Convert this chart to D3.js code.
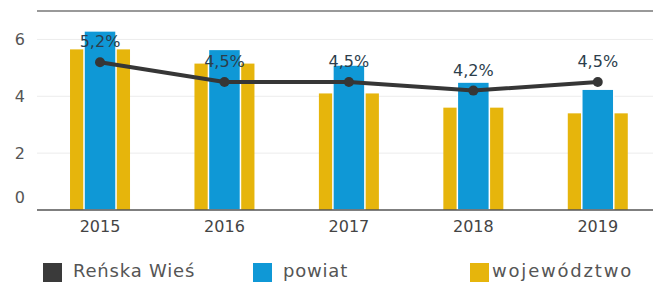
<!DOCTYPE html>
<html>
<head>
<meta charset="utf-8">
<script src="https://cdn.jsdelivr.net/npm/d3@7"></script>
<style>
  html, body { margin: 0; padding: 0; background: #fff; }
  svg { display: block; }
</style>
</head>
<body>
<svg id="chart" width="653" height="282"></svg>
<script>
const years = ["2015", "2016", "2017", "2018", "2019"];
const wojewodztwo = [5.65, 5.15, 4.1, 3.6, 3.4];
const powiat = [6.3, 5.65, 5.1, 4.5, 4.25];
const renskaWies = [5.2, 4.5, 4.5, 4.2, 4.5];
const lineLabels = ["5,2%", "4,5%", "4,5%", "4,2%", "4,5%"];
const yTicks = [0, 2, 4, 6];
const legendItems = [
  { name: "Reńska Wieś", color: "#3a3a3a" },
  { name: "powiat", color: "#0f98d6" },
  { name: "województwo", color: "#e6b50c" }
];

const svg = d3.select("#chart");
const font = "'DejaVu Sans', sans-serif";

const x = d3.scaleBand().domain(years).range([37.8, 660]).paddingInner(0).paddingOuter(0);
const y = d3.scaleLinear().domain([0, 7]).range([210, 11]);

// gridlines
svg.append("g").selectAll("line").data([2, 4, 6]).join("line")
  .attr("x1", 37).attr("x2", 653)
  .attr("y1", d => y(d)).attr("y2", d => y(d))
  .attr("stroke", "#ececec").attr("stroke-width", 1);

// top line
svg.append("line").attr("x1", 37).attr("x2", 653)
  .attr("y1", y(7)).attr("y2", y(7))
  .attr("stroke", "#777").attr("stroke-width", 1.6);

const cx = d => x(d) + x.bandwidth() / 2;

// yellow bars
svg.append("g").selectAll("rect").data(years).join("rect")
  .attr("x", d => cx(d) - 30).attr("width", 60)
  .attr("y", (d, i) => y(wojewodztwo[i]))
  .attr("height", (d, i) => y(0) - y(wojewodztwo[i]))
  .attr("fill", "#e6b50c");

// blue bars
svg.append("g").selectAll("rect").data(years).join("rect")
  .attr("x", d => cx(d) - 16).attr("width", 32)
  .attr("y", (d, i) => y(powiat[i]))
  .attr("height", (d, i) => y(0) - y(powiat[i]))
  .attr("fill", "#0f98d6")
  .attr("stroke", "#fff").attr("stroke-width", 1.5);

// baseline axis
const xAxis = svg.append("g").attr("transform", `translate(0,${y(0)})`)
  .call(d3.axisBottom(x).tickSize(0).tickPadding(11));
xAxis.select(".domain").attr("d", `M37,0H653`).attr("stroke", "#555").attr("stroke-width", 1.4);
xAxis.selectAll("text").attr("font-family", font).attr("font-size", 16).attr("fill", "#444");

// y axis labels
const yAxis = svg.append("g").attr("transform", "translate(25,0)")
  .call(d3.axisLeft(y).tickValues(yTicks).tickFormat(d3.format("d")).tickSize(0).tickPadding(0));
yAxis.select(".domain").remove();
yAxis.selectAll("text").attr("font-family", font).attr("font-size", 16).attr("fill", "#555")
  .attr("dy", d => d === 0 ? "-0.45em" : "0.32em");

// line
const line = d3.line().x((d, i) => cx(years[i])).y(d => y(d));
svg.append("path").datum(renskaWies)
  .attr("d", line).attr("fill", "none")
  .attr("stroke", "#363636").attr("stroke-width", 4).attr("stroke-linejoin", "round");
svg.append("g").selectAll("circle").data(renskaWies).join("circle")
  .attr("cx", (d, i) => cx(years[i])).attr("cy", d => y(d)).attr("r", 5)
  .attr("fill", "#363636");

// line labels
svg.append("g").selectAll("text").data(renskaWies).join("text")
  .attr("x", (d, i) => cx(years[i])).attr("y", d => y(d) - 15)
  .attr("text-anchor", "middle")
  .attr("font-family", font).attr("font-size", 16).attr("fill", "#2c3e4c")
  .text((d, i) => lineLabels[i]);

// legend
const legendX = [43, 253, 470];
const legendSpacing = [0.8, 0.8, 1.8];
const lg = svg.append("g").selectAll("g").data(legendItems).join("g")
  .attr("transform", (d, i) => `translate(${legendX[i]},263)`);
lg.append("rect").attr("width", 19).attr("height", 19).attr("fill", d => d.color);
lg.append("text").attr("x", (d, i) => i === 2 ? 22 : 30).attr("y", 14)
  .attr("font-family", font).attr("font-size", 18).attr("fill", "#555")
  .attr("letter-spacing", (d, i) => legendSpacing[i])
  .text(d => d.name);
</script>
</body>
</html>
